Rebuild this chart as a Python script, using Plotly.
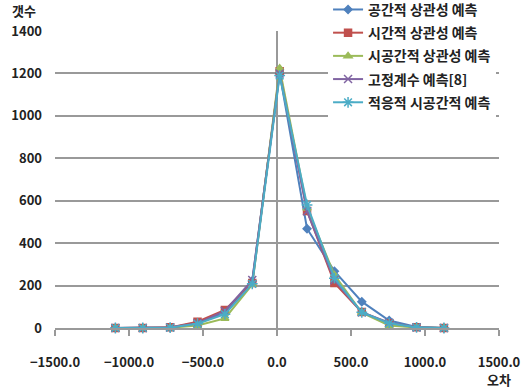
import plotly.graph_objects as go

x_err = [-1092, -907, -722, -537, -352, -167, 18, 203, 388, 573, 758, 943, 1128]

names = ["공간적 상관성 예측", "시간적 상관성 예측", "시공간적 상관성 예측",
         "고정계수 예측[8]", "적응적 시공간적 예측"]
spatial   = [0, 0, 2, 25, 72, 222, 1200, 468, 268, 124, 35, 5, 0]
temporal  = [0, 0, 3, 30, 85, 212, 1210, 552, 212, 75, 22, 3, 0]
st_corr   = [0, 0, 1, 12, 45, 205, 1225, 565, 250, 72, 12, 2, 0]
fixed     = [0, 0, 2, 22, 80, 226, 1200, 550, 225, 74, 25, 3, 0]
adaptive  = [0, 0, 2, 20, 65, 208, 1190, 580, 235, 74, 22, 3, 0]
series = [spatial, temporal, st_corr, fixed, adaptive]

colors = ["#4F81BD", "#C0504D", "#9BBB59", "#8064A2", "#4BACC6"]
symbols = ["diamond", "square", "triangle-up", "x-thin-open", "asterisk-open"]
sizes = [6, 7, 7, 8, 9]

x_ticks = [-1500, -1000, -500, 0, 500, 1000, 1500]
y_ticks = [0, 200, 400, 600, 800, 1000, 1200, 1400]

FONT = "Noto Sans CJK KR"
TXT = dict(family=FONT, size=13, color="#222222", weight="bold")
LEG = dict(family=FONT, size=14, color="#222222", weight="bold")

fig = go.Figure()
for i, (nm, ys) in enumerate(zip(names, series)):
    fig.add_trace(go.Scatter(
        x=x_err, y=ys, name=nm, mode="lines+markers",
        line=dict(color=colors[i], width=2),
        marker=dict(symbol=symbols[i], size=sizes[i], color=colors[i],
                    line=dict(color=colors[i], width=1.5)),
        cliponaxis=False, legendgroup=str(i),
    ))

fig.update_layout(
    width=522, height=389,
    margin=dict(l=55, r=23, t=31, b=61, autoexpand=False),
    paper_bgcolor="white", plot_bgcolor="white",
    font=dict(family=FONT, size=12, color="#222222"),
    showlegend=True,
    legend=dict(x=0.615, y=1.125, xanchor="left", yanchor="top",
                bgcolor="white", font=LEG,
                traceorder="grouped", tracegroupgap=2, itemwidth=30),
    xaxis=dict(range=[-1500, 1500], tickvals=x_ticks, tickformat=".1f",
               showgrid=False, zeroline=True, zerolinecolor="#999999", zerolinewidth=2,
               showline=True, linecolor="#999999", linewidth=2,
               ticks="outside", ticklen=6, tickcolor="#999999", tickwidth=2,
               ticklabelstandoff=15, tickfont=TXT),
    yaxis=dict(range=[0, 1400], tickvals=y_ticks,
               showgrid=True, gridcolor="#999999", gridwidth=2,
               zeroline=False, showline=False, ticks="",
               ticklabelstandoff=12, tickfont=TXT),
    annotations=[
        dict(text="갯수", xref="paper", yref="paper", x=-0.07, y=1.07,
             xanchor="center", yanchor="middle", showarrow=False, font=TXT),
        dict(text="오차", xref="paper", yref="paper", x=1.0, y=-0.175,
             xanchor="center", yanchor="middle", showarrow=False, font=TXT),
    ],
)

fig.write_html("out.html")
